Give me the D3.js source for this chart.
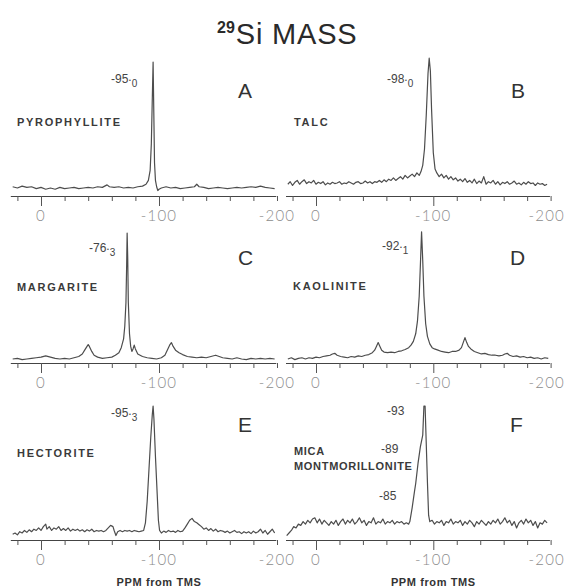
<!DOCTYPE html>
<html>
<head>
<meta charset="utf-8">
<script src="https://cdn.jsdelivr.net/npm/d3@7"></script>
<style>
body { margin: 0; background: #fff; }
</style>
</head>
<body>
<svg id="chart" width="567" height="588"></svg>
<script>
"use strict";

// spectra: [ppm, relative intensity], main peak ~ 100
var specA = [[24,1],[20,0],[16,1.5],[12,0.5],[8,1],[4,-0.5],[0,0.5],[-4,-1],[-8,0],[-12,-1],[-16,0.5],[-20,-0.5],[-24,0],[-28,0.5],[-32,-0.5],[-36,0],[-40,0.5],[-44,0],[-48,1],[-52,0.5],[-56,2.5],[-58,1],[-62,0.5],[-66,1],[-70,0],[-74,0.5],[-78,0],[-82,1],[-86,1.5],[-89,3],[-91,6],[-92.5,14],[-93.5,35],[-94.3,70],[-95,100],[-95.6,60],[-96.2,20],[-97,6],[-98,1],[-99,-2],[-100,-1],[-102,0],[-106,1],[-110,0],[-114,0.5],[-118,-0.5],[-122,0],[-126,0.5],[-130,1],[-132,3],[-134,1],[-138,0.5],[-142,-0.5],[-146,0],[-150,0.5],[-154,0],[-158,-0.5],[-162,0],[-166,0.5],[-170,0],[-174,0.5],[-178,1],[-182,0.5],[-186,1.5],[-190,0.5],[-194,0],[-198,-0.5]];

var specB = [[24,3],[22,5],[20,2],[18,4.5],[16,6],[14,3],[12,5],[10,6.5],[8,3.5],[6,5],[4,4],[2,6],[0,3],[-2,4.5],[-4,3.5],[-6,5],[-8,2.5],[-10,4],[-12,3],[-14,4.5],[-16,3.5],[-18,4],[-20,5],[-22,3],[-24,4],[-26,3.5],[-28,5],[-30,4],[-32,3],[-34,4.5],[-36,5],[-38,3.5],[-40,4],[-42,5.5],[-44,4],[-46,5],[-48,3.5],[-50,5],[-52,4.5],[-54,6],[-56,4.5],[-58,6.5],[-60,5],[-62,7],[-64,6],[-66,8],[-68,6],[-70,7.5],[-72,9],[-74,7],[-76,10],[-78,8],[-80,9.5],[-82,11],[-84,9],[-86,12],[-88,10],[-89.5,13],[-91,18],[-92.5,31],[-94,58],[-95.5,91],[-96.5,103],[-97.5,93],[-98.5,63],[-100,28],[-101.5,15],[-103,12],[-105,9],[-107,11],[-109,8],[-111,10],[-113,7],[-115,9],[-117,6.5],[-119,8],[-121,5.5],[-123,7],[-125,5],[-127,7.5],[-129,4.5],[-131,6],[-133,4],[-135,7],[-137,3.5],[-139,5.5],[-141,4],[-143,9],[-145,3],[-147,5],[-149,4],[-151,6],[-153,3],[-155,5],[-157,2.5],[-159,4.5],[-161,3.5],[-163,5],[-165,3],[-167,4],[-169,5.5],[-171,3],[-173,4],[-175,2.5],[-177,4.5],[-179,3],[-181,5],[-183,3.5],[-185,4],[-187,2],[-189,4],[-191,3],[-193,3.5],[-195,2],[-197,3]];

var specC = [[24,0],[20,0.5],[16,-0.5],[12,0],[8,0.5],[4,1],[0,1.5],[-4,2.5],[-8,1.5],[-12,0.5],[-16,0],[-20,0.5],[-24,0],[-28,1],[-32,2],[-35,4],[-37,7],[-39,10],[-40,11.5],[-41,10],[-43,6],[-45,3],[-48,1.5],[-52,0.5],[-56,1],[-60,1.5],[-63,3],[-66,5],[-68,9],[-70,16],[-71,26],[-72,45],[-72.6,75],[-73,100],[-73.5,80],[-74,45],[-75,20],[-76,10],[-77,6],[-78,8],[-79,11],[-80,8],[-82,4],[-86,2],[-90,1],[-94,0.5],[-98,0],[-102,1],[-105,3],[-107,7],[-109,11],[-110.5,13],[-112,10],[-114,7],[-117,5],[-120,3.5],[-124,2],[-128,1.5],[-132,1],[-136,1.5],[-140,1],[-144,2],[-148,3],[-151,2],[-154,1],[-158,0.5],[-162,0],[-166,1],[-170,0],[-174,-0.5],[-178,0.5],[-182,0],[-186,0.5],[-190,0],[-194,0.5],[-198,0]];

var specD = [[24,0],[21,1],[18,-0.5],[15,0.5],[12,1],[9,0],[6,1],[3,0.5],[0,1.5],[-3,1],[-6,2],[-9,2.5],[-12,3],[-14,4],[-16,4.5],[-18,3],[-21,2],[-24,1.5],[-27,1],[-30,2],[-33,1.5],[-36,2.5],[-39,2],[-42,3],[-45,3.5],[-48,5],[-50,7],[-51.5,10],[-53,13],[-54.5,10],[-56,7],[-58,5.5],[-61,5],[-64,5.5],[-67,5],[-70,6],[-73,6.5],[-76,7.5],[-79,9],[-81,11],[-83,14],[-85,20],[-86.5,30],[-88,50],[-89,75],[-90,101],[-91,78],[-92,50],[-93.5,28],[-95,18],[-97,12],[-99,9],[-101,8],[-104,7],[-107,6],[-110,5.5],[-113,5],[-116,6],[-119,6],[-122,7],[-124,9],[-125.5,13],[-127,17],[-128.5,13],[-130,10],[-132,8],[-135,6],[-138,5],[-141,4],[-144,4.5],[-147,3.5],[-150,3],[-153,3],[-156,2.5],[-159,3],[-161,4],[-163,4.5],[-165,3],[-168,2],[-171,2.5],[-174,1.5],[-177,2],[-180,1],[-183,1.5],[-186,0.5],[-189,1],[-192,0],[-195,1],[-198,0.5]];

var specE = [[24,-1],[22,0],[20,-1.5],[18,1],[16,0],[14,2],[12,0.5],[10,2.5],[8,1],[6,3],[4,2],[2,4],[0,2],[-2,5],[-4,7],[-5,3],[-7,5],[-9,2],[-11,4],[-13,3],[-15,5],[-17,2],[-19,3.5],[-21,2],[-23,4],[-25,1.5],[-27,3],[-29,2],[-31,3],[-33,1.5],[-35,2.5],[-37,1],[-39,2.5],[-41,1.5],[-43,3],[-45,1],[-47,2],[-49,1.5],[-51,2],[-53,1],[-55,2],[-57,4],[-59,6],[-61,5],[-62,2],[-63.5,-2],[-65,1],[-67,2],[-69,1],[-71,2],[-73,1.5],[-75,2],[-77,1],[-79,2],[-81,1.5],[-83,1],[-85,1.5],[-87,2],[-88.5,8],[-90,25],[-91.5,50],[-93,75],[-94.3,93],[-95,100],[-95.7,90],[-97,60],[-98.5,30],[-99.5,10],[-100.5,2],[-102,0],[-104,1.5],[-106,0.5],[-108,2],[-110,1],[-112,1.5],[-114,0.5],[-116,2],[-118,1],[-120,1.5],[-122,4],[-124,7],[-126,10],[-128,11.5],[-130,9],[-132,8],[-134,6.5],[-136,5],[-138,3],[-140,4],[-142,2],[-144,3.5],[-146,1.5],[-148,3],[-150,1],[-152,2],[-154,1.5],[-156,0.5],[-158,1.5],[-160,0],[-162,1],[-164,2],[-166,0.5],[-168,1],[-170,-0.5],[-172,1],[-174,0],[-176,1],[-178,-0.5],[-180,1.5],[-182,0],[-184,1],[-186,3],[-188,0],[-190,2],[-192,-1],[-194,1],[-196,3],[-198,0]];

var specF = [[25,-2],[23,0],[21,2],[19,5],[17,4],[15,7],[13,6],[11,9],[9,7],[7,10],[5,8],[3,11],[1,12],[-1,8],[-3,11],[-5,7],[-7,10],[-9,8],[-11,6],[-13,9],[-15,7],[-17,10],[-19,6],[-21,9],[-23,11],[-25,7],[-27,10],[-29,8],[-31,11],[-33,7],[-35,9],[-37,12],[-39,8],[-41,10],[-43,6],[-45,9],[-47,8],[-49,12],[-51,7],[-53,9],[-55,8],[-57,11],[-59,7],[-61,9],[-63,8],[-65,10],[-67,7],[-69,9],[-71,8],[-73,9],[-75,7],[-77,8],[-79,7],[-80,9],[-82,20],[-84,33],[-85,39],[-87,55],[-89,68],[-91,77],[-92,100],[-93,100],[-94,70],[-95,40],[-96,14],[-97,9],[-99,10],[-101,7],[-103,9],[-105,8],[-107,10],[-109,6],[-111,9],[-113,8],[-115,11],[-117,7],[-119,9],[-121,8],[-123,10],[-125,6],[-127,9],[-129,7],[-131,10],[-133,8],[-135,5],[-137,9],[-139,7],[-141,10],[-143,8],[-145,6],[-147,9],[-149,7],[-151,10],[-153,8],[-155,11],[-157,7],[-159,9],[-161,12],[-163,8],[-165,10],[-167,6],[-169,9],[-171,4],[-173,8],[-175,10],[-177,7],[-179,11],[-181,8],[-183,10],[-185,6],[-187,9],[-189,4],[-191,8],[-193,7],[-195,10],[-197,8]];

var spectra = [specA, specB, specC, specD, specE, specF];
var sampleNames = [["PYROPHYLLITE"], ["TALC"], ["MARGARITE"], ["KAOLINITE"], ["HECTORITE"], ["MICA", "MONTMORILLONITE"]];
var panelLetters = ["A", "B", "C", "D", "E", "F"];
var shiftMain = ["-95", "-98", "-76", "-92", "-95", "-93"];
var shiftSub = ["0", "0", "3", "1", "3", ""];
var extraShiftsF = ["-89", "-85"];
var tickValues = [20, 0, -20, -40, -60, -80, -100, -120, -140, -160, -180, -200];
var tickLabels = [0, -100, -200];

// layout (pixels)
var W_RIGHT_EDGE = 565;
var colZero = [41, 316], colPxPer100 = [118, 117.3];
var rowAxis = [196, 363, 540], rowBase = [188, 359, 533], rowTop = [62, 233, 406];
var namePos = [[17, 126], [294, 126], [17, 291], [293, 290], [17, 457], [294, 455]];
var letterPos = [[238, 98], [511, 98], [238, 265], [510, 265], [238, 432], [510, 432]];
var shiftPos = [[111, 83], [387, 83], [89, 252], [382, 250], [111, 417], [387, 415]];
var extraPos = [[381, 453], [379, 500]];

var svg = d3.select("#chart");
var lightFont = "Lato, 'DejaVu Sans', sans-serif";
var sansFont = "'Liberation Sans', Arial, Helvetica, sans-serif";

// title
var title = svg.append("text")
    .attr("x", 217).attr("y", 44)
    .style("font-family", sansFont)
    .style("fill", "#2a2a2a");
title.append("tspan").text("29")
    .style("font-size", "16px").style("font-weight", "bold")
    .attr("dy", -11);
title.append("tspan").text("Si MASS")
    .style("font-size", "29px")
    .style("letter-spacing", "0.8px")
    .attr("dy", 11).attr("dx", 1);

spectra.forEach(function (spec, i) {
    var col = i % 2, row = Math.floor(i / 2);
    var k = colPxPer100[col] / 100;
    var x = d3.scaleLinear()
        .domain([26, -199])
        .range([colZero[col] - 26 * k, colZero[col] + 199 * k]);
    var y = d3.scaleLinear()
        .domain([0, 100])
        .range([rowBase[row], rowTop[row]]);

    var g = svg.append("g").attr("class", "panel" + panelLetters[i]);

    // ppm axis
    var ax = g.append("g")
        .attr("transform", "translate(0," + rowAxis[row] + ")")
        .call(d3.axisBottom(x).tickValues(tickValues).tickSize(5).tickSizeOuter(0).tickFormat(""));
    ax.select(".domain").attr("stroke", "#444").attr("stroke-width", 1.2);
    ax.selectAll(".tick line")
        .attr("stroke", "#555")
        .attr("stroke-width", 1)
        .attr("y2", function (d) { return tickLabels.indexOf(d) >= 0 && d !== -200 ? 10 : 5; });

    g.selectAll("text.ticklab")
        .data(tickLabels)
        .enter().append("text")
        .attr("class", "ticklab")
        .attr("x", function (d) { return (col === 1 && d === -200) ? W_RIGHT_EDGE : x(d); })
        .attr("y", rowAxis[row] + 25)
        .attr("text-anchor", function (d) { return (col === 1 && d === -200) ? "end" : "middle"; })
        .style("font-family", lightFont)
        .style("font-weight", 300)
        .style("font-size", "15px")
        .style("letter-spacing", "1.2px")
        .style("fill", "#8c8c8c")
        .text(function (d) { return d === 0 ? "0" : "-" + Math.abs(d); });

    // spectrum
    g.append("path")
        .datum(spec)
        .attr("d", d3.line().x(function (d) { return x(d[0]); }).y(function (d) { return y(d[1]); }))
        .style("fill", "none")
        .style("stroke", "#4d4d4d")
        .style("stroke-width", 1.2)
        .style("stroke-linejoin", "round");

    // sample name
    sampleNames[i].forEach(function (nm, j) {
        g.append("text")
            .attr("x", namePos[i][0]).attr("y", namePos[i][1] + j * 15)
            .style("font-family", sansFont)
            .style("font-weight", "bold")
            .style("font-size", "11px")
            .style("letter-spacing", i === 5 ? "0.7px" : "1.7px")
            .style("fill", "#3a3a3a")
            .text(nm);
    });

    // panel letter
    g.append("text")
        .attr("x", letterPos[i][0]).attr("y", letterPos[i][1])
        .style("font-family", sansFont)
        .style("font-size", "21px")
        .style("fill", "#333")
        .text(panelLetters[i]);

    // peak shift
    var st = g.append("text")
        .attr("x", shiftPos[i][0]).attr("y", shiftPos[i][1])
        .style("font-family", sansFont)
        .style("font-size", "12px")
        .style("fill", "#444")
        .text(shiftMain[i]);
    if (shiftSub[i]) {
        st.append("tspan").text(".").attr("dy", -2);
        st.append("tspan").text(shiftSub[i]).attr("dy", 6).style("font-size", "10px");
    }
});

// extra shifts in panel F
extraShiftsF.forEach(function (s, j) {
    svg.append("text")
        .attr("x", extraPos[j][0]).attr("y", extraPos[j][1])
        .style("font-family", sansFont)
        .style("font-size", "12px")
        .style("fill", "#444")
        .text(s);
});

// x axis titles
[0, 1].forEach(function (col) {
    svg.append("text")
        .attr("x", colZero[col] + colPxPer100[col])
        .attr("y", 586)
        .attr("text-anchor", "middle")
        .style("font-family", sansFont)
        .style("font-weight", "bold")
        .style("font-size", "11px")
        .style("letter-spacing", "0.6px")
        .style("fill", "#333")
        .text("PPM from TMS");
});
</script>
</body>
</html>
